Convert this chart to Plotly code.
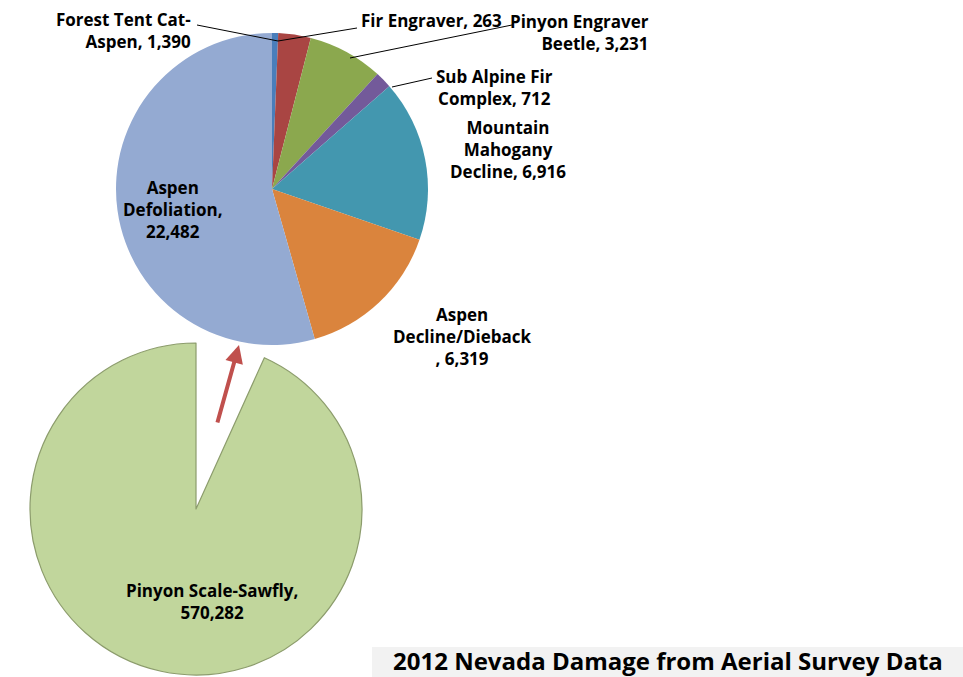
import plotly.graph_objects as go

# top pie: breakdown of the non-sawfly damage (acres)
pest_names = ["Fir Engraver", "Forest Tent Cat-<br>Aspen", "Pinyon Engraver<br>Beetle",
              "Sub Alpine Fir<br>Complex", "Mountain<br>Mahogany<br>Decline",
              "Aspen<br>Decline/Dieback<br>", "Aspen<br>Defoliation,<br>"]
pest_sep = [", ", ", ", ", ", ", ", ", ", ", ", ""]
pest_acres = [263, 1390, 3231, 712, 6916, 6319, 22482]
pest_colors = ["#4A7EBB", "#A94543", "#8BA84E", "#735A9A", "#4397AF", "#DA843D", "#94AAD2"]

# bottom pie: sawfly vs everything else
big_names = ["Other", "Pinyon Scale-Sawfly,<br>"]
big_acres = [sum(pest_acres), 570282]

title = "2012 Nevada Damage from Aerial Survey Data"

W, H = 963, 677
FONT = "Open Sans"
FS = 17


def px(x):
    return x / W


def py(y):
    return 1 - y / H


fig = go.Figure()

fig.add_trace(go.Pie(
    labels=big_names, values=big_acres, sort=False, direction="clockwise", rotation=0,
    marker=dict(colors=["rgba(0,0,0,0)", "#C1D69C"],
                line=dict(color=["rgba(0,0,0,0)", "#8C9C6C"], width=[0, 1.2])),
    textinfo="none", hoverinfo="label+value", showlegend=False,
    domain=dict(x=[px(30), px(362)], y=[py(675), py(343)]),
))

fig.add_trace(go.Pie(
    labels=pest_names, values=pest_acres, sort=False, direction="clockwise", rotation=0,
    marker=dict(colors=pest_colors, line=dict(width=0)),
    textinfo="none", hoverinfo="label+value", showlegend=False,
    domain=dict(x=[px(116), px(428)], y=[py(345), py(33)]),
))

# label anchor positions (pixels) and alignment, same order as pest_names
label_pos = [(431, 21), (193, 31), (651, 33), (494, 87), (508, 150), (462, 337), (173, 210)]
label_align = ["center", "right", "right", "center", "center", "center", "center"]

annotations = []
for name, sep, val, (lx, ly), al in zip(pest_names, pest_sep, pest_acres, label_pos, label_align):
    annotations.append(dict(
        x=px(lx), y=py(ly), xref="paper", yref="paper", showarrow=False,
        xanchor=al, yanchor="middle",
        text="<b>%s%s%s</b>" % (name, sep, f"{val:,}"),
        align=al, font=dict(family=FONT, size=FS, color="black"),
    ))

annotations.append(dict(
    x=px(212), y=py(601), xref="paper", yref="paper", showarrow=False,
    xanchor="center", yanchor="middle",
    text="<b>%s%s</b>" % (big_names[1], f"{big_acres[1]:,}"),
    align="center", font=dict(family=FONT, size=FS, color="black"),
))

# red arrow pointing from the big pie to the breakdown
annotations.append(dict(
    x=px(239), y=py(345), ax=-22, ay=79, xref="paper", yref="paper",
    showarrow=True, arrowhead=2, arrowsize=0.9,
    arrowwidth=4, arrowcolor="#C0504D", text="",
))

# title bar
annotations.append(dict(
    x=px(668), y=py(660), xref="paper", yref="paper", showarrow=False,
    xanchor="center", yanchor="middle",
    text="<b>%s</b>" % title, font=dict(family=FONT, size=24, color="black"),
))

shapes = [dict(type="rect", xref="paper", yref="paper", x0=px(372), x1=1, y0=0, y1=py(647),
               fillcolor="#F2F2F2", line=dict(width=0), layer="below")]

# leader lines
leaders = [((197, 25), (278, 41)), ((357, 28), (278, 41)), ((512, 25), (350, 58)),
           ((432, 78), (392, 87))]
for (x0, y0), (x1, y1) in leaders:
    shapes.append(dict(type="line", xref="paper", yref="paper", x0=px(x0), y0=py(y0),
                       x1=px(x1), y1=py(y1), line=dict(color="black", width=1)))

fig.update_layout(
    width=W, height=H, margin=dict(l=0, r=0, t=0, b=0),
    paper_bgcolor="white", plot_bgcolor="white",
    annotations=annotations, shapes=shapes,
)

# drop the default page margin so the figure fills the window exactly
fig.write_html("out.html", config={"displayModeBar": False},
               post_script="document.body.style.margin = '0';")
